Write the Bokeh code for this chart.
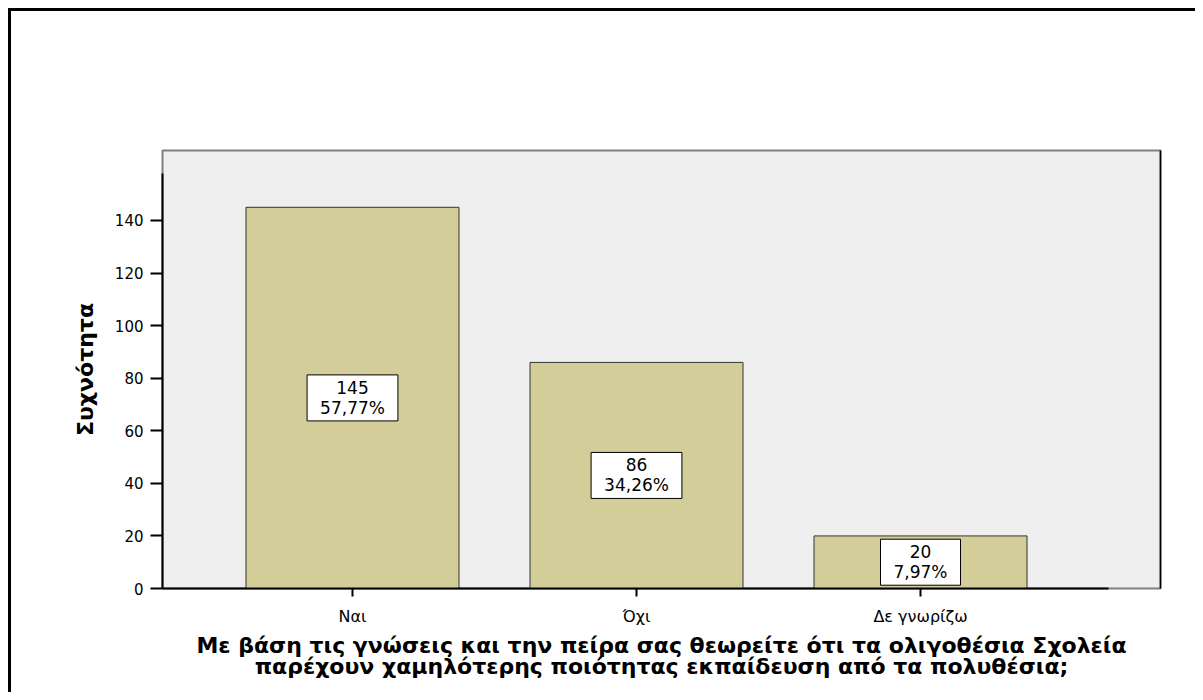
from bokeh.plotting import figure
from bokeh.models import Range1d, FixedTicker, LinearAxis, ColumnDataSource
from bokeh.core.properties import value
from bokeh.embed import file_html
from bokeh.resources import INLINE

categories = ["Ναι", "Όχι", "Δε γνωρίζω"]
counts = [145, 86, 20]
percents = [57.77, 34.26, 7.97]
y_ticks = [0, 20, 40, 60, 80, 100, 120, 140]

x_title = ("Με βάση τις γνώσεις και την πείρα σας θεωρείτε ότι τα ολιγοθέσια Σχολεία\n"
           "παρέχουν χαμηλότερης ποιότητας εκπαίδευση από τα πολυθέσια;")
y_title = "Συχνότητα"

FONT = "DejaVu Sans"

xs = list(range(len(categories)))
labels = [f"{c}\n{format(pc, '.2f').replace('.', ',')}%" for c, pc in zip(counts, percents)]
src = ColumnDataSource(dict(x=xs, top=counts, mid=[c / 2 for c in counts], label=labels))

p = figure(width=1187, height=684,
           x_range=Range1d(-0.669, 2.845), y_range=Range1d(0, 166.6),
           output_backend="svg", toolbar_location=None,
           min_border_left=151, min_border_right=38,
           min_border_top=139, min_border_bottom=107)
p.styles = {"border-left": "3px solid black", "border-top": "3px solid black",
            "margin-left": "8px", "margin-top": "8px"}

p.background_fill_color = "#EFEFEF"
p.border_fill_color = "white"
p.outline_line_color = "#808080"
p.outline_line_width = 2
p.xgrid.visible = False
p.ygrid.visible = False

p.vbar(x="x", top="top", bottom=0, width=0.75, source=src,
       fill_color="#D3CE99", line_color="#333333", line_width=1)

p.text(x="x", y="mid", text="label", source=src,
       text_font=value(FONT), text_font_size="17px", text_color="black",
       text_align="center", text_baseline="middle", text_line_height=1.0,
       background_fill_color="white", border_line_color="black",
       border_line_width=1, padding=(13, 13, 3, 3))

# x axis
xa = p.xaxis[0]
xa.ticker = FixedTicker(ticks=xs)
xa.major_label_overrides = {i: c for i, c in enumerate(categories)}
xa.bounds = (-0.669, 2.662)
xa.axis_line_width = 2
xa.axis_line_color = "black"
xa.major_tick_in = 0
xa.major_tick_out = 8
xa.major_tick_line_width = 2
xa.minor_tick_line_color = None
xa.major_label_text_font = FONT
xa.major_label_text_font_size = "16px"
xa.major_label_text_color = "black"
xa.major_label_standoff = 10
xa.axis_label = x_title
xa.axis_label_text_font = FONT
xa.axis_label_text_font_size = "22px"
xa.axis_label_text_font_style = "bold"
xa.axis_label_text_color = "black"
xa.axis_label_text_line_height = 0.84
xa.axis_label_standoff = 4

# y axis
ya = p.yaxis[0]
ya.ticker = FixedTicker(ticks=y_ticks)
ya.bounds = (0, 157.8)
ya.axis_line_width = 2
ya.axis_line_color = "black"
ya.major_tick_in = 0
ya.major_tick_out = 12
ya.major_tick_line_width = 2
ya.minor_tick_line_color = None
ya.major_label_text_font = FONT
ya.major_label_text_font_size = "15px"
ya.major_label_text_color = "black"
ya.major_label_standoff = 7
ya.axis_label = y_title
ya.axis_label_text_font = FONT
ya.axis_label_text_font_size = "22px"
ya.axis_label_text_font_style = "bold"
ya.axis_label_text_color = "black"
ya.axis_label_standoff = 14

# right frame edge in black
ra = LinearAxis(ticker=FixedTicker(ticks=[]), axis_line_color="black", axis_line_width=1.5,
                major_tick_line_color=None, minor_tick_line_color=None)
p.add_layout(ra, "right")

open("out.html", "w").write(file_html(p, INLINE))
